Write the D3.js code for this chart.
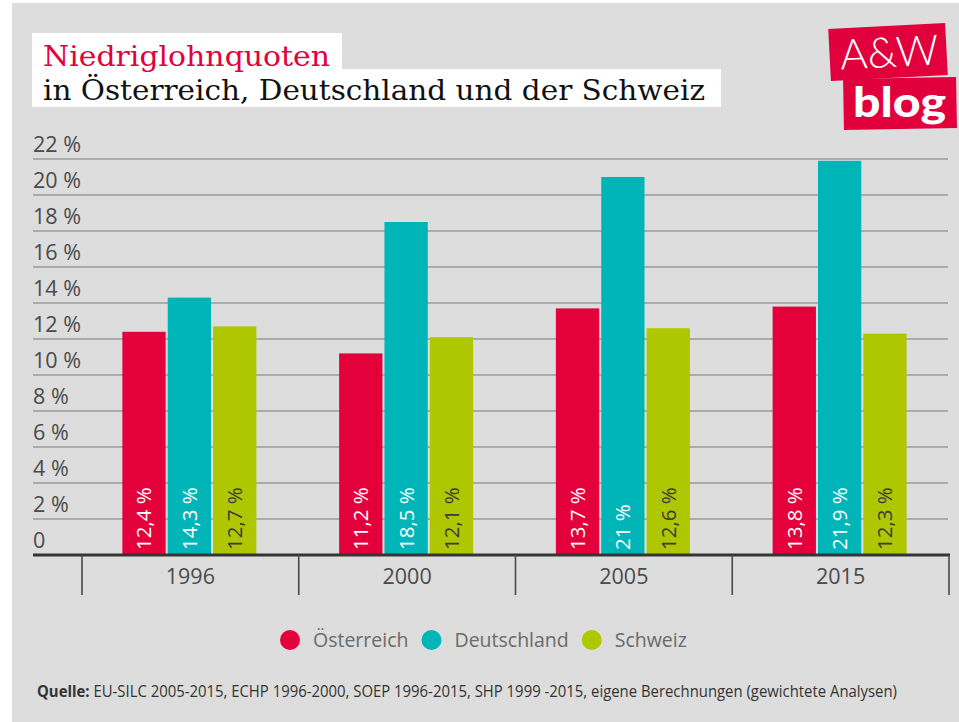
<!DOCTYPE html>
<html>
<head>
<meta charset="utf-8">
<script src="https://cdn.jsdelivr.net/npm/d3@7"></script>
<style>
  html, body { margin: 0; padding: 0; background: #ffffff; }
  svg { display: block; }
</style>
</head>
<body>
<div id="chart"></div>
<script>
// Low-wage shares (percent of employees) by country and year
const years = ["1996", "2000", "2005", "2015"];
const countries = ["Österreich", "Deutschland", "Schweiz"];
const oesterreich = [12.4, 11.2, 13.7, 13.8];
const deutschland = [14.3, 18.5, 21.0, 21.9];
const schweiz = [12.7, 12.1, 12.6, 12.3];
const valueLabels = {
  "Österreich": ["12,4 %", "11,2 %", "13,7 %", "13,8 %"],
  "Deutschland": ["14,3 %", "18,5 %", "21 %", "21,9 %"],
  "Schweiz": ["12,7 %", "12,1 %", "12,6 %", "12,3 %"]
};
const yTicks = [0, 2, 4, 6, 8, 10, 12, 14, 16, 18, 20, 22];
const yTickLabels = ["0", "2 %", "4 %", "6 %", "8 %", "10 %", "12 %", "14 %", "16 %", "18 %", "20 %", "22 %"];

const seriesValues = {
  "Österreich": oesterreich,
  "Deutschland": deutschland,
  "Schweiz": schweiz
};
const colors = {
  "Österreich": "#e4003b",
  "Deutschland": "#00b5b7",
  "Schweiz": "#afc700"
};
const labelColors = {
  "Österreich": "#ffffff",
  "Deutschland": "#ffffff",
  "Schweiz": "#3c3c3c"
};

const W = 959, H = 722;
const sans = "'Open Sans', 'Noto Sans', sans-serif";

const svg = d3.select("#chart").append("svg")
  .attr("width", W).attr("height", H);

// page background
svg.append("rect").attr("x", 12).attr("y", 3)
  .attr("width", W - 12).attr("height", H - 3).attr("fill", "#dddddd");

// scales
const x0 = d3.scaleBand().domain(years).range([82, 949]);
const x1 = d3.scaleBand().domain(countries).range([-68, 66]).paddingInner(0.045);
const y = d3.scaleLinear().domain([0, 22]).range([555, 159]);

// horizontal grid lines
const grid = svg.append("g");
grid.selectAll("line").data(yTicks.filter(d => d > 0)).join("line")
  .attr("x1", 33).attr("x2", 948)
  .attr("y1", d => y(d)).attr("y2", d => y(d))
  .attr("stroke", "#9a9a9a").attr("stroke-width", 1.5);

// tick labels sit just above their line
svg.append("g").selectAll("text").data(yTicks).join("text")
  .attr("x", 33).attr("y", d => y(d) - 7)
  .attr("font-family", sans).attr("font-size", 21.5)
  .attr("fill", "#4a4a4a")
  .text((d, i) => yTickLabels[i]);

// bars
const groups = svg.append("g").selectAll("g").data(years).join("g")
  .attr("transform", d => `translate(${x0(d) + x0.bandwidth() / 2},0)`);

groups.selectAll("rect")
  .data((yr, i) => countries.map(c => ({ c, v: seriesValues[c][i], i })))
  .join("rect")
  .attr("x", d => x1(d.c))
  .attr("width", x1.bandwidth())
  .attr("y", d => y(d.v))
  .attr("height", d => y(0) - y(d.v))
  .attr("fill", d => colors[d.c]);

// rotated value labels at the foot of each bar
groups.selectAll("text.val")
  .data((yr, i) => countries.map(c => ({ c, v: seriesValues[c][i], i })))
  .join("text")
  .attr("class", "val")
  .attr("transform", d => `translate(${x1(d.c) + x1.bandwidth() / 2},${y(0) - 5}) rotate(-90)`)
  .attr("dy", "0.36em")
  .attr("text-anchor", "start")
  .attr("font-family", sans).attr("font-size", 20.5)
  .attr("fill", d => labelColors[d.c])
  .text(d => valueLabels[d.c][d.i]);

// base axis line
svg.append("line").attr("x1", 33).attr("x2", 950)
  .attr("y1", y(0)).attr("y2", y(0))
  .attr("stroke", "#353535").attr("stroke-width", 2.8);

// category separators
const edges = years.map(d => x0(d)).concat([x0.range()[1]]);
svg.append("g").selectAll("line").data(edges).join("line")
  .attr("x1", d => d).attr("x2", d => d)
  .attr("y1", y(0)).attr("y2", 595)
  .attr("stroke", "#4a4a4a").attr("stroke-width", 1.6);

// category labels
svg.append("g").selectAll("text").data(years).join("text")
  .attr("x", d => x0(d) + x0.bandwidth() / 2).attr("y", 584)
  .attr("text-anchor", "middle")
  .attr("font-family", sans).attr("font-size", 21.5)
  .attr("fill", "#4a4a4a")
  .text(d => d);

// legend
const legend = svg.append("g");
let lx = 280;
countries.forEach(c => {
  legend.append("circle").attr("cx", lx + 10).attr("cy", 640).attr("r", 10)
    .attr("fill", colors[c]);
  const t = legend.append("text").attr("x", lx + 33).attr("y", 647)
    .attr("font-family", sans).attr("font-size", 19.5)
    .attr("fill", "#6a6a6a").text(c);
  lx += 33 + t.node().getComputedTextLength() + 13;
});

// title boxes
svg.append("rect").attr("x", 32).attr("y", 33).attr("width", 310).attr("height", 37).attr("fill", "#ffffff");
svg.append("rect").attr("x", 32).attr("y", 69).attr("width", 689).attr("height", 38).attr("fill", "#ffffff");

const serif = "'DejaVu Serif', 'Liberation Serif', serif";
svg.append("text").attr("x", 43).attr("y", 66)
  .attr("font-family", serif).attr("font-size", 27)
  .attr("textLength", 287).attr("lengthAdjust", "spacingAndGlyphs")
  .attr("fill", "#e4003b").text("Niedriglohnquoten");
svg.append("text").attr("x", 43).attr("y", 100)
  .attr("font-family", serif).attr("font-size", 28)
  .attr("textLength", 662).attr("lengthAdjust", "spacingAndGlyphs")
  .attr("fill", "#111111").text("in Österreich, Deutschland und der Schweiz");

// logo
const logo = svg.append("g");
logo.append("rect").attr("x", -58.5).attr("y", -26).attr("width", 117).attr("height", 52)
  .attr("fill", "#e2003c")
  .attr("transform", "translate(888,52) rotate(-3)");
logo.append("rect").attr("x", -56.5).attr("y", -25.5).attr("width", 113).attr("height", 51)
  .attr("fill", "#e2003c")
  .attr("transform", "translate(900,103.5) rotate(-1)");
logo.append("text").attr("x", 0).attr("y", 0)
  .attr("transform", "translate(890,67) rotate(-3)")
  .attr("text-anchor", "middle")
  .attr("font-family", "Lato, 'Open Sans', sans-serif").attr("font-weight", 300)
  .attr("font-size", 42).attr("fill", "#ffffff").text("A&W");
logo.append("text").attr("x", 853).attr("y", 117)
  .attr("font-family", "Lato, 'Open Sans', sans-serif").attr("font-weight", 900)
  .attr("font-size", 42)
  .attr("textLength", 93).attr("lengthAdjust", "spacingAndGlyphs")
  .attr("fill", "#ffffff").text("blog");

// source note
const src = svg.append("text").attr("x", 37).attr("y", 697)
  .attr("font-family", "'Liberation Sans Narrow', 'Open Sans', sans-serif")
  .attr("font-size", 15.5)
  .attr("textLength", 860).attr("lengthAdjust", "spacingAndGlyphs")
  .attr("fill", "#333333");
src.append("tspan").attr("font-weight", 700).text("Quelle:");
src.append("tspan").text(" EU-SILC 2005-2015, ECHP 1996-2000, SOEP 1996-2015, SHP 1999 -2015, eigene Berechnungen (gewichtete Analysen)");
</script>
</body>
</html>
